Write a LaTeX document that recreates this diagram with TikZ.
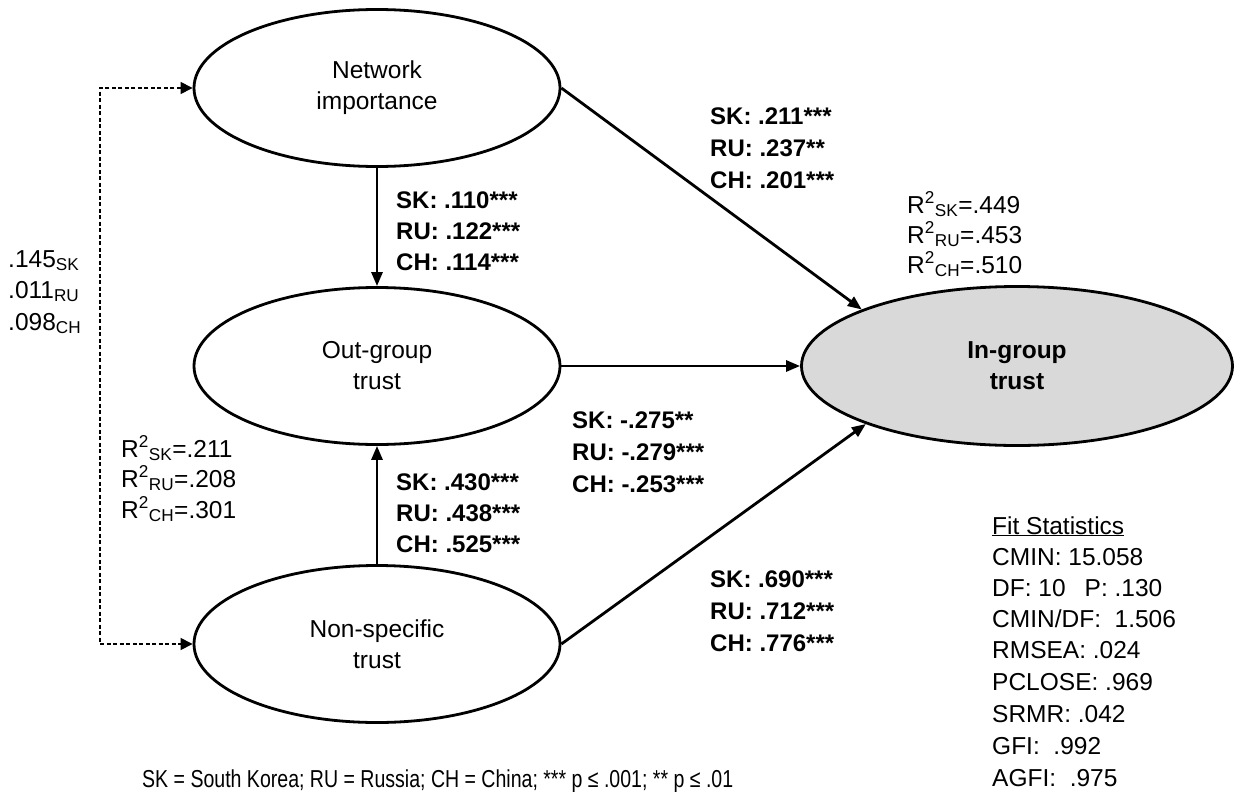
\documentclass[tikz,border=0pt]{standalone}
\usepackage{fontspec}
\setmainfont{Liberation Sans}
\usetikzlibrary{arrows.meta,shapes.geometric}
\definecolor{ingray}{RGB}{217,217,217}
\begin{document}
\begin{tikzpicture}[x=1pt,y=-1pt,
  lat/.style={ellipse, draw, line width=2.8pt, inner sep=0pt, minimum width=366pt, minimum height=157pt, align=center, font=\fontsize{24.5}{31}\selectfont},
  arr/.style={line width=2.8pt, -{Triangle[length=14pt,width=11pt]}},
  cov/.style={line width=1.1pt, dash pattern=on 4pt off 2.5pt, {Triangle[length=12pt,width=12pt]}-{Triangle[length=12pt,width=12pt]}},
  coef/.style={anchor=base west, inner sep=0pt, font=\fontsize{24}{31}\selectfont\bfseries},
  txt/.style={anchor=base west, inner sep=0pt, font=\fontsize{24.5}{31}\selectfont},
]
\useasboundingbox (0,0) rectangle (1234,792);

% latent variables
\node[lat] (net) at (377,88) {Network\\importance};
\node[lat] (out) at (377,366) {Out-group\\trust};
\node[lat] (nsp) at (377,644) {Non-specific\\trust};
\node[lat, fill=ingray, minimum width=431pt, minimum height=159pt, font=\fontsize{24.5}{31}\selectfont\bfseries] (ing) at (1017,366) {In-group\\trust};

% paths
\draw[arr] (net.south) -- (out.north);
\draw[arr] (nsp.north) -- (out.south);
\draw[arr] (out.east) -- (ing.west);
\draw[arr] (net.east) -- (ing.160);
\draw[arr] (nsp.east) -- (ing.201);

% covariance
\coordinate (dcol) at (100,0);
\draw[cov] (net.west) -- (net.west -| dcol) -- (nsp.west -| dcol) -- (nsp.west);

% coefficients: network -> out-group
\node[coef] (c1a) at (396,208) {SK: .110***};
\node[coef] (c1b) at (396,239) {RU: .122***};
\node[coef] (c1c) at (396,270) {CH: .114***};
% non-specific -> out-group
\node[coef] (c2a) at (396,490) {SK: .430***};
\node[coef] (c2b) at (396,521) {RU: .438***};
\node[coef] (c2c) at (396,552) {CH: .525***};
% network -> in-group
\node[coef] (c3a) at (710,124) {SK: .211***};
\node[coef] (c3b) at (710,156) {RU: .237**};
\node[coef] (c3c) at (710,188) {CH: .201***};
% out-group -> in-group
\node[coef] (c4a) at (572,428) {SK: -.275**};
\node[coef] (c4b) at (572,460) {RU: -.279***};
\node[coef] (c4c) at (572,492) {CH: -.253***};
% non-specific -> in-group
\node[coef] (c5a) at (710,587) {SK: .690***};
\node[coef] (c5b) at (710,619) {RU: .712***};
\node[coef] (c5c) at (710,651) {CH: .776***};

% covariance values
\node[txt] (v1) at (8,267) {.145\textsubscript{SK}};
\node[txt] (v2) at (8,298) {.011\textsubscript{RU}};
\node[txt] (v3) at (8,330) {.098\textsubscript{CH}};

% R squared out-group
\node[txt] (r1) at (121,457) {R\textsuperscript{2}\textsubscript{SK}=.211};
\node[txt] (r2) at (121,487) {R\textsuperscript{2}\textsubscript{RU}=.208};
\node[txt] (r3) at (121,518) {R\textsuperscript{2}\textsubscript{CH}=.301};

% R squared in-group
\node[txt] (r4) at (907,213) {R\textsuperscript{2}\textsubscript{SK}=.449};
\node[txt] (r5) at (907,243) {R\textsuperscript{2}\textsubscript{RU}=.453};
\node[txt] (r6) at (907,273) {R\textsuperscript{2}\textsubscript{CH}=.510};

% fit statistics
\node[txt] (f0) at (992,534) {\underline{Fit Statistics}};
\node[txt] (f1) at (992,565) {CMIN: 15.058};
\node[txt] (f2) at (992,596) {DF: 10\hspace{19pt}P: .130};
\node[txt] (f3) at (992,627) {CMIN/DF:~ 1.506};
\node[txt] (f4) at (992,658) {RMSEA: .024};
\node[txt] (f5) at (992,690) {PCLOSE: .969};
\node[txt] (f6) at (992,722) {SRMR: .042};
\node[txt] (f7) at (992,754) {GFI:~ .992};
\node[txt] (f8) at (992,786) {AGFI:~ .975};

% note
\node[txt] (note) at (142,787) {\resizebox{591pt}{\height}{SK = South Korea; RU = Russia; CH = China; *** p ≤ .001; ** p ≤ .01}};
\end{tikzpicture}
\end{document}
